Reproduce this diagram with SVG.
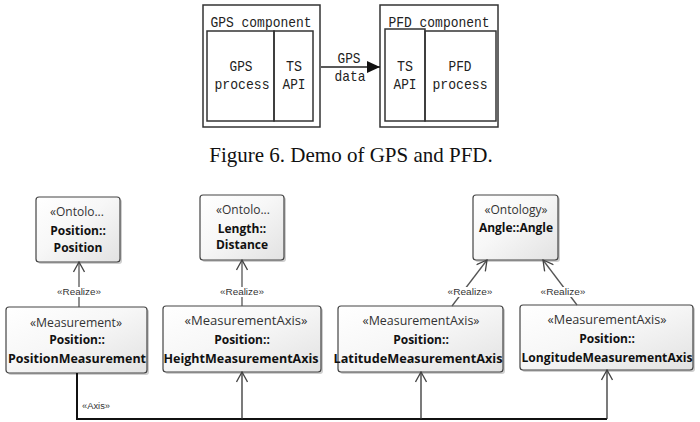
<svg xmlns="http://www.w3.org/2000/svg" width="700" height="422" viewBox="0 0 700 422">
<defs>
<linearGradient id="g" x1="0" y1="0" x2="1" y2="1">
<stop offset="0" stop-color="#ffffff"/>
<stop offset="0.45" stop-color="#f7f7f7"/>
<stop offset="1" stop-color="#e2e2e2"/>
</linearGradient>
<marker id="open" viewBox="0 0 12 12" refX="11" refY="6" markerWidth="12" markerHeight="12" markerUnits="userSpaceOnUse" orient="auto">
<path d="M1,0.5 L11,6 L1,11.5" fill="none" stroke="#444" stroke-width="1.3"/>
</marker>
<marker id="fill" viewBox="0 0 14 12" refX="13" refY="6" markerWidth="14" markerHeight="12" markerUnits="userSpaceOnUse" orient="auto">
<path d="M0,0 L13,6 L0,12 Z" fill="#111"/>
</marker>
</defs>
<style>
.frame{fill:none;stroke:#333;stroke-width:1.5}
.mono{font-family:"Liberation Mono","DejaVu Sans Mono",monospace;font-size:15px;fill:#222;text-anchor:middle}
.cap{font-family:"Liberation Serif","Times New Roman",serif;font-size:21px;fill:#111;text-anchor:middle}
.box{fill:url(#g);stroke:#444;stroke-width:1.2}
.sh{fill:#cfcfcf}
.st{font-family:"Open Sans","Liberation Sans",sans-serif;font-size:12px;fill:#333;text-anchor:middle}
.nm{font-family:"Open Sans","Liberation Sans",sans-serif;font-size:12px;font-weight:bold;fill:#111;text-anchor:middle}
.lbl{font-family:"Liberation Sans",sans-serif;font-size:8.5px;fill:#333;text-anchor:middle}
.real{stroke:#555;stroke-width:1.3;fill:none;marker-end:url(#open)}
.axis{stroke:#111;stroke-width:2;fill:none}
.br{stroke:#333;stroke-width:1.3;fill:none;marker-end:url(#open)}
</style>

<!-- Top figure -->
<g id="gps-component">
<rect class="frame" x="203" y="5" width="117" height="122"/>
<text class="mono" x="261" y="27" textLength="101" lengthAdjust="spacingAndGlyphs">GPS component</text>
<rect class="frame" x="207" y="31" width="67" height="90"/>
<rect class="frame" x="274" y="31" width="39" height="90"/>
<text class="mono" x="241" y="71" textLength="23" lengthAdjust="spacingAndGlyphs">GPS</text>
<text class="mono" x="242" y="89" textLength="55" lengthAdjust="spacingAndGlyphs">process</text>
<text class="mono" x="294" y="71" textLength="16" lengthAdjust="spacingAndGlyphs">TS</text>
<text class="mono" x="294" y="89" textLength="23" lengthAdjust="spacingAndGlyphs">API</text>
</g>
<g id="pfd-component">
<rect class="frame" x="380" y="5" width="118" height="122"/>
<text class="mono" x="439" y="27" textLength="101" lengthAdjust="spacingAndGlyphs">PFD component</text>
<rect class="frame" x="385" y="29" width="40" height="92"/>
<rect class="frame" x="425" y="31" width="71" height="90"/>
<text class="mono" x="405" y="71" textLength="16" lengthAdjust="spacingAndGlyphs">TS</text>
<text class="mono" x="405" y="89" textLength="23" lengthAdjust="spacingAndGlyphs">API</text>
<text class="mono" x="460" y="71" textLength="23" lengthAdjust="spacingAndGlyphs">PFD</text>
<text class="mono" x="460" y="89" textLength="55" lengthAdjust="spacingAndGlyphs">process</text>
</g>
<g id="top-connectors">
<line x1="321" y1="67" x2="380" y2="67" stroke="#222" stroke-width="1.5" marker-end="url(#fill)"/>
<text class="mono" x="349" y="63" textLength="23" lengthAdjust="spacingAndGlyphs">GPS</text>
<text class="mono" x="350" y="81" textLength="31" lengthAdjust="spacingAndGlyphs">data</text>
</g>
<text class="cap" x="351" y="162">Figure 6. Demo of GPS and PFD.</text>

<!-- Bottom figure: nodes -->
<g id="onto-position">
<rect class="sh" x="38" y="199" width="84" height="65" rx="3"/>
<rect class="box" x="36" y="197" width="84" height="65" rx="3"/>
<text class="st" x="77" y="216">«Ontolo...</text>
<text class="nm" x="78" y="235">Position::</text>
<text class="nm" x="78" y="252">Position</text>
</g>
<g id="onto-length">
<rect class="sh" x="202" y="197" width="84" height="65" rx="3"/>
<rect class="box" x="200" y="195" width="84" height="65" rx="3"/>
<text class="st" x="243" y="214">«Ontolo...</text>
<text class="nm" x="242" y="233">Length::</text>
<text class="nm" x="242" y="249">Distance</text>
</g>
<g id="onto-angle">
<rect class="sh" x="475" y="197" width="85" height="65" rx="3"/>
<rect class="box" x="473" y="195" width="85" height="65" rx="3"/>
<text class="st" x="516" y="214">«Ontology»</text>
<text class="nm" x="516" y="232">Angle::Angle</text>
</g>
<g id="position-measurement">
<rect class="sh" x="8" y="309" width="141" height="66" rx="3"/>
<rect class="box" x="6" y="307" width="141" height="66" rx="3"/>
<text class="st" x="76" y="327" textLength="92" lengthAdjust="spacingAndGlyphs">«Measurement»</text>
<text class="nm" x="77" y="344">Position::</text>
<text class="nm" x="77" y="363" textLength="138" lengthAdjust="spacingAndGlyphs">PositionMeasurement</text>
</g>
<g id="height-axis">
<rect class="sh" x="165" y="308" width="158" height="66" rx="3"/>
<rect class="box" x="163" y="306" width="158" height="66" rx="3"/>
<text class="st" x="246" y="325" textLength="123" lengthAdjust="spacingAndGlyphs">«MeasurementAxis»</text>
<text class="nm" x="242" y="344">Position::</text>
<text class="nm" x="241" y="363" textLength="155" lengthAdjust="spacingAndGlyphs">HeightMeasurementAxis</text>
</g>
<g id="latitude-axis">
<rect class="sh" x="340" y="308" width="165" height="66" rx="3"/>
<rect class="box" x="338" y="306" width="165" height="66" rx="3"/>
<text class="st" x="421" y="325" textLength="117" lengthAdjust="spacingAndGlyphs">«MeasurementAxis»</text>
<text class="nm" x="421" y="344">Position::</text>
<text class="nm" x="418" y="363" textLength="169" lengthAdjust="spacingAndGlyphs">LatitudeMeasurementAxis</text>
</g>
<g id="longitude-axis">
<rect class="sh" x="522" y="307" width="173" height="65" rx="3"/>
<rect class="box" x="520" y="305" width="173" height="65" rx="3"/>
<text class="st" x="607" y="324" textLength="119" lengthAdjust="spacingAndGlyphs">«MeasurementAxis»</text>
<text class="nm" x="607" y="343">Position::</text>
<text class="nm" x="607" y="362" textLength="171" lengthAdjust="spacingAndGlyphs">LongitudeMeasurementAxis</text>
</g>

<!-- Bottom figure: connectors -->
<g id="connectors">
<line class="real" x1="79" y1="307" x2="79" y2="262"/>
<rect x="57" y="287" width="45" height="10" fill="#fff"/>
<text class="lbl" x="79" y="295" textLength="44" lengthAdjust="spacingAndGlyphs">«Realize»</text>

<line class="real" x1="242" y1="306" x2="242" y2="260"/>
<rect x="220" y="287" width="45" height="10" fill="#fff"/>
<text class="lbl" x="242" y="295" textLength="44" lengthAdjust="spacingAndGlyphs">«Realize»</text>

<line class="real" x1="452" y1="306" x2="487" y2="260"/>
<rect x="447" y="287" width="46" height="10" fill="#fff"/>
<text class="lbl" x="470" y="295" textLength="45" lengthAdjust="spacingAndGlyphs">«Realize»</text>

<line class="real" x1="577" y1="305" x2="543" y2="260"/>
<rect x="540" y="287" width="46" height="10" fill="#fff"/>
<text class="lbl" x="563" y="295" textLength="45" lengthAdjust="spacingAndGlyphs">«Realize»</text>

<polyline class="axis" points="77,373 77,419 607,419"/>
<text class="lbl" x="96" y="409" textLength="28" lengthAdjust="spacingAndGlyphs">«Axis»</text>
<line class="br" x1="242" y1="419" x2="242" y2="372"/>
<line class="br" x1="421" y1="419" x2="421" y2="372"/>
<line class="br" x1="607" y1="419" x2="607" y2="370"/>
</g>
</svg>
